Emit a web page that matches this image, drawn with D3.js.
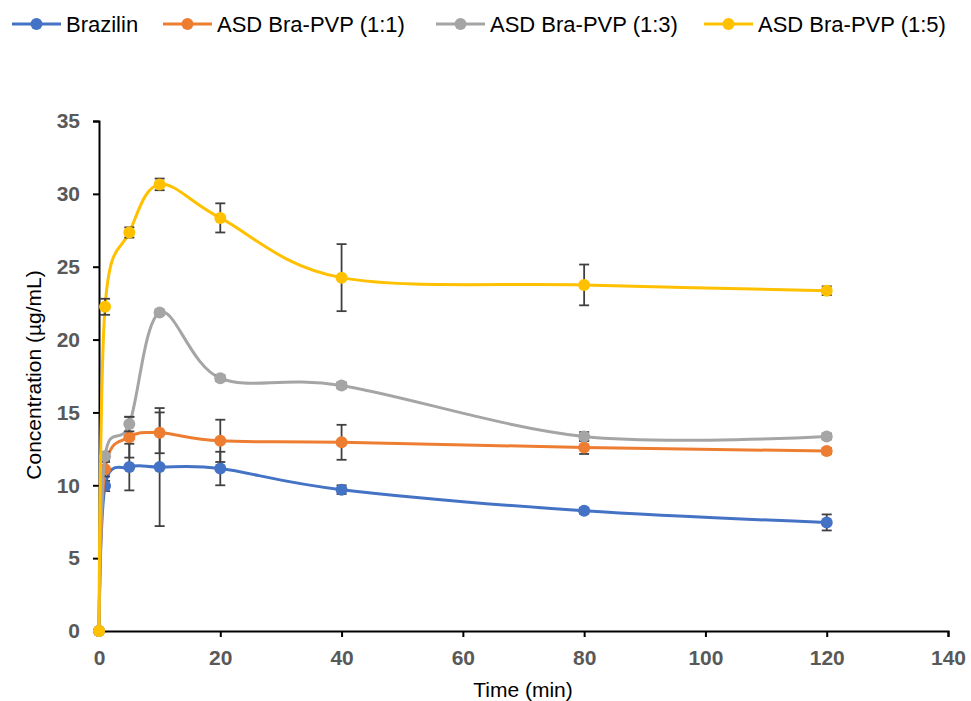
<!DOCTYPE html>
<html><head><meta charset="utf-8">
<script src="https://cdn.jsdelivr.net/npm/d3@7"></script>
<style>body{margin:0;background:#fff;} svg{display:block;}</style>
</head><body>
<svg id="chart" width="971" height="701"></svg>
<script>
const times = [0, 1, 5, 10, 20, 40, 80, 120];
const seriesNames = ["Brazilin", "ASD Bra-PVP (1:1)", "ASD Bra-PVP (1:3)", "ASD Bra-PVP (1:5)"];
const brazilin = [0, 9.95, 11.25, 11.25, 11.15, 9.7, 8.25, 7.45];
const brazilinErr = [0, 0.35, 1.6, 4.05, 1.15, 0.3, 0.2, 0.55];
const pvp11 = [0, 11.1, 13.3, 13.6, 13.05, 12.95, 12.6, 12.35];
const pvp11Err = [0, 0.5, 1.4, 1.4, 1.45, 1.2, 0.45, 0.2];
const pvp13 = [0, 12.0, 14.2, 21.85, 17.35, 16.85, 13.35, 13.35];
const pvp13Err = [0, 0.3, 0.5, 0.15, 0.2, 0.2, 0.3, 0.2];
const pvp15 = [0, 22.25, 27.35, 30.65, 28.35, 24.25, 23.75, 23.35];
const pvp15Err = [0, 0.55, 0.35, 0.4, 1.0, 2.3, 1.4, 0.3];
const colors = ["#4472C4", "#ED7D31", "#A5A5A5", "#FFC000"];
const xTicks = [0, 20, 40, 60, 80, 100, 120, 140];
const yTicks = [0, 5, 10, 15, 20, 25, 30, 35];

const values = [brazilin, pvp11, pvp13, pvp15];
const errs = [brazilinErr, pvp11Err, pvp13Err, pvp15Err];

const svg = d3.select("#chart");
const x = d3.scaleLinear().domain([0, 140]).range([99, 948]);
const y = d3.scaleLinear().domain([0, 35]).range([631, 121]);
const font = "'Liberation Sans', Arial, sans-serif";

// axes
const yAxis = svg.append("g").attr("transform", "translate(99,0)")
  .call(d3.axisLeft(y).tickValues(yTicks).tickSize(6).tickPadding(13).tickFormat(d3.format("d")));
const xAxis = svg.append("g").attr("transform", "translate(0,631)")
  .call(d3.axisBottom(x).tickValues(xTicks).tickSize(6).tickPadding(13).tickFormat(d3.format("d")));
[yAxis, xAxis].forEach(a => {
  a.select(".domain").attr("stroke", "#000").attr("stroke-width", 2);
  a.selectAll(".tick line").attr("stroke", "#000").attr("stroke-width", 2);
  a.selectAll(".tick text").attr("font-family", font).attr("font-size", 21)
    .attr("font-weight", "bold").attr("fill", "#595959");
});

svg.append("text").attr("transform", "translate(41,375) rotate(-90)")
  .attr("text-anchor", "middle").attr("font-family", font).attr("font-size", 21)
  .attr("fill", "#000").text("Concentration (µg/mL)");
svg.append("text").attr("x", 523).attr("y", 697)
  .attr("text-anchor", "middle").attr("font-family", font).attr("font-size", 21)
  .attr("fill", "#000").text("Time (min)");

const line = d3.line().x(d => x(d.t)).y(d => y(d.v)).curve(d3.curveCardinal.tension(0));

values.forEach((vals, si) => {
  const data = times.map((t, i) => ({t, v: vals[i], e: errs[si][i]}));
  const g = svg.append("g");
  g.append("path").datum(data).attr("d", line).attr("fill", "none")
    .attr("stroke", colors[si]).attr("stroke-width", 3);
  const eb = g.selectAll(".eb").data(data.filter(d => d.e > 0)).enter().append("g");
  eb.append("line").attr("x1", d => x(d.t)).attr("x2", d => x(d.t))
    .attr("y1", d => y(d.v - d.e)).attr("y2", d => y(d.v + d.e))
    .attr("stroke", "#404040").attr("stroke-width", 1.8);
  [-1, 1].forEach(s => {
    eb.append("line").attr("x1", d => x(d.t) - 5).attr("x2", d => x(d.t) + 5)
      .attr("y1", d => y(d.v + s * d.e)).attr("y2", d => y(d.v + s * d.e))
      .attr("stroke", "#404040").attr("stroke-width", 1.8);
  });
  g.selectAll("circle").data(data).enter().append("circle")
    .attr("cx", d => x(d.t)).attr("cy", d => y(d.v)).attr("r", 6)
    .attr("fill", colors[si]);
});

// legend
const legX = [12, 163, 436, 704];
seriesNames.forEach((n, i) => {
  const g = svg.append("g").attr("transform", `translate(${legX[i]},24)`);
  g.append("line").attr("x1", 0).attr("x2", 49).attr("stroke", colors[i]).attr("stroke-width", 3);
  g.append("circle").attr("cx", 24.5).attr("r", 6).attr("fill", colors[i]);
  g.append("text").attr("x", 54).attr("y", 8).attr("font-family", font).attr("font-size", 22)
    .attr("fill", "#000").text(n);
});
</script>
</body></html>
